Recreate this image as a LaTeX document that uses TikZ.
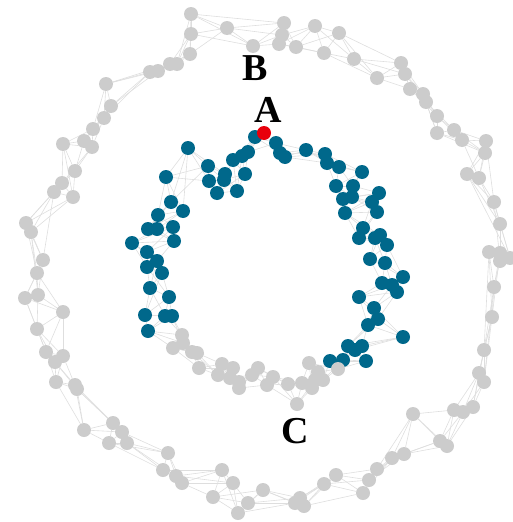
\documentclass[tikz,border=0pt]{standalone}
\usepackage{fontspec}
\setmainfont{Liberation Serif}
\usetikzlibrary{backgrounds}
\definecolor{gcol}{HTML}{CCCCCC}
\definecolor{bcol}{HTML}{00688B}
\definecolor{rcol}{HTML}{E8000B}
\definecolor{ecol}{HTML}{DEDEDE}
\begin{document}
\begin{tikzpicture}[x=1pt,y=-1pt,
  dot/.style={circle,inner sep=0pt,minimum size=14pt},
  link/.style={draw=ecol,line width=0.6pt},
  lab/.style={font=\bfseries\fontsize{38}{40}\selectfont,inner sep=0pt,text=black}]
\useasboundingbox (0,0) rectangle (512,522);
% outer ring
\foreach \x/\y [count=\i] in {486/141,485/153,462/140,454/130,437/133,437/116,426/102,423/94,410/89,405/74,
  401/63,377/78,354/59,339/33,324/53,315/26,296/47,279/44,282/35,284/23,
  253/46,227/28,191/14,191/34,190/54,177/64,170/64,158/71,150/72,106/84,
  111/106,104/118,93/129,84/141,92/147,63/144,75/171,62/183,73/197,54/192,
  26/223,31/232,43/260,37/273,38/295,25/298,63/312,37/329,46/352,63/356,
  55/362,56/382,75/385,77/389,84/430,113/423,122/432,109/443,127/443,168/453,
  163/470,176/476,182/483,222/470,233/483,213/497,238/513,248/503,263/490,295/503,
  300/498,304/506,324/484,336/475,363/493,369/480,377/469,392/458,404/454,413/414,
  440/441,447/446,454/410,463/412,473/407,479/373,484/382,484/350,492/317,494/287,
  489/252,500/253,500/261,510/258,500/224,494/202,467/174,479/178}
  \node[dot,fill=gcol] (o\i) at (\x,\y) {};
% inner ring
\foreach \x/\y/\c [count=\i] in {188/148/b,208/166/b,209/181/b,225/174/b,224/180/b,217/193/b,237/191/b,245/174/b,233/160/b,242/156/b,
  248/152/b,255/137/b,264/133/r,276/143/b,280/153/b,285/157/b,306/150/b,325/154/b,327/163/b,339/167/b,
  362/172/b,336/186/b,353/186/b,343/199/b,352/197/b,379/193/b,372/202/b,377/212/b,345/213/b,363/228/b,
  359/238/b,380/235/b,375/238/b,387/245/b,370/259/b,385/263/b,403/277/b,382/283/b,392/285/b,397/292/b,
  359/297/b,374/308/b,378/319/b,368/325/b,403/337/b,348/346/b,362/346/b,355/350/b,366/361/b,343/360/b,
  330/361/b,338/369/g,323/380/g,318/372/g,309/363/g,315/380/g,312/388/g,302/383/g,297/404/g,288/384/g,
  273/377/g,267/385/g,258/368/g,252/375/g,239/388/g,239/382/g,230/378/g,233/368/g,222/364/g,218/375/g,
  199/368/g,197/353/g,192/352/g,173/348/g,183/343/g,182/335/g,148/331/b,172/316/b,165/316/b,145/315/b,
  169/297/b,150/288/b,162/273/b,147/267/b,157/261/b,147/252/b,132/243/b,174/241/b,173/227/b,157/229/b,
  148/229/b,158/215/b,183/211/b,171/202/b,166/177/b}
  \node[dot,fill=\c col] (n\i) at (\x,\y) {};
\begin{pgfonlayer}{background}
\foreach \i in {1,...,98}
  \foreach \k in {1,2,3} {
    \pgfmathtruncatemacro\j{mod(\i+\k-1,98)+1}
    \draw[link] (o\i) -- (o\j);
  }
\foreach \i in {1,...,95}
  \foreach \k in {1,2,3} {
    \pgfmathtruncatemacro\j{mod(\i+\k-1,95)+1}
    \draw[link] (n\i) -- (n\j);
  }
\end{pgfonlayer}
\node[lab] (lb) at (255.5,68.3) {B};
\node[lab] (la) at (268,110) {A};
\node[lab] (lc) at (295,431) {C};
\end{tikzpicture}
\end{document}
